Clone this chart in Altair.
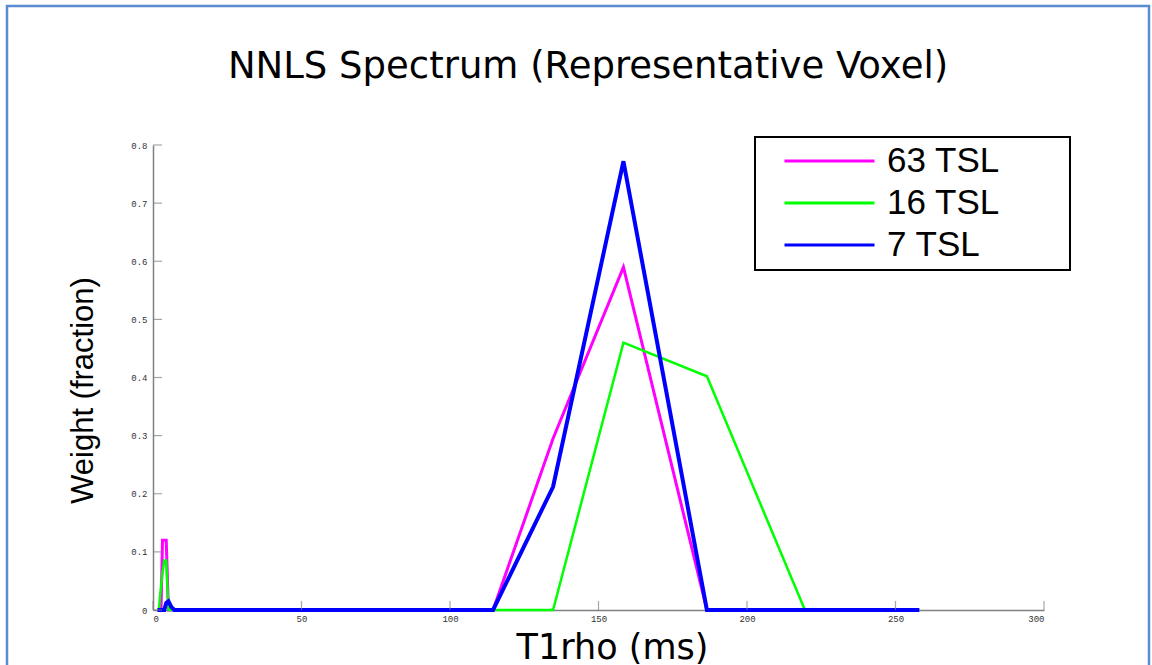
import altair as alt
import pandas as pd

# T1rho grid (ms) and NNLS weights for each acquisition
t1rho = [1.5, 2.0, 2.3, 2.7, 3.2, 3.8, 4.45, 5.2, 6.2, 7.2, 97.3,
         114.5, 134.7, 158.4, 186.5, 219.5, 258.0]
w_63 = [0, 0, 0, 0, 0.12, 0.12, 0.12, 0, 0, 0, 0,
        0, 0.295, 0.59, 0, 0, 0]
w_16 = [0, 0, 0.02, 0.04, 0.065, 0.085, 0.085, 0, 0, 0, 0,
        0, 0, 0.46, 0.402, 0, 0]
w_7 = [0, 0, 0, 0, 0, 0, 0.012, 0.015, 0.005, 0, 0,
       0, 0.212, 0.772, 0, 0, 0]

series_names = ["63 TSL", "16 TSL", "7 TSL"]
series_colors = ["#ff00ff", "#00ff00", "#0000ff"]
series_widths = [3, 2.5, 4]

x_ticks = [0, 50, 100, 150, 200, 250, 300]
y_ticks = [0, 0.1, 0.2, 0.3, 0.4, 0.5, 0.6, 0.7, 0.8]

W, H = 891, 465

rows = []
for name, ws in zip(series_names, [w_63, w_16, w_7]):
    for t, w in zip(t1rho, ws):
        rows.append({"t1rho": t, "weight": w, "series": name})
df = pd.DataFrame(rows)

x_scale = alt.Scale(domain=[0, 300], nice=False, zero=False)
y_scale = alt.Scale(domain=[0, 0.8], nice=False)
color_scale = alt.Scale(domain=series_names, range=series_colors)

axis_common = dict(
    grid=False, ticks=False, domainColor="#808080", domainWidth=1.5,
    labelFont="Liberation Mono", labelFontSize=9, labelColor="#333333",
    titleFontWeight="normal", titleColor="#000000",
)

x_axis = alt.Axis(values=x_ticks, format="d", labelPadding=4,
                  title="T1rho (ms)",
                  titleFont="DejaVu Sans", titleFontSize=35,
                  titleX=459, titleY=48,
                  titleBaseline="alphabetic", titleAlign="center",
                  **axis_common)
y_axis = alt.Axis(values=y_ticks, format="~r", labelPadding=6,
                  title="Weight (fraction)",
                  titleFont="Liberation Sans", titleFontSize=31,
                  titleX=-70, titleY=245,
                  titleAngle=270, titleAlign="center",
                  titleBaseline="middle", **axis_common)

legend = alt.Legend(
    orient="none", legendX=630, legendY=-1, title=None,
    symbolType="stroke", symbolSize=8100, symbolStrokeWidth=3,
    labelFont="Liberation Sans", labelFontSize=35, labelColor="#000000",
    labelOffset=11, rowPadding=7, padding=0, clipHeight=34,
    labelExpr="datum.label == '7 TSL' ? '\u00a0\u00a0\u00a07 TSL' : datum.label",
)

one_row = pd.DataFrame({"k": [0]})

# outer frame around the figure
frame = alt.Chart(one_row).mark_rect(
    fillOpacity=0, stroke="#5b8bd0", strokeWidth=2.5
).encode(
    x=alt.value(-146), x2=alt.value(996),
    y=alt.value(-139), y2=alt.value(560),
)

# legend box
legend_box = alt.Chart(one_row).mark_rect(
    fill="white", stroke="black", strokeWidth=2
).encode(
    x=alt.value(602), x2=alt.value(917),
    y=alt.value(-8), y2=alt.value(125),
)

def spectrum(name, width):
    return alt.Chart(df).transform_filter(
        alt.datum.series == name
    ).mark_line(strokeWidth=width, strokeJoin="miter").encode(
        x=alt.X("t1rho:Q", scale=x_scale, axis=x_axis),
        y=alt.Y("weight:Q", scale=y_scale, axis=y_axis),
        color=alt.Color("series:N", scale=color_scale, legend=legend),
    )

lines = [spectrum(n, w) for n, w in zip(series_names, series_widths)]

# inward tick marks
y_tick_marks = alt.Chart(pd.DataFrame({"weight": y_ticks})).mark_tick(
    color="#808080", size=9, thickness=1.2
).encode(
    y=alt.Y("weight:Q", scale=y_scale, axis=y_axis), x=alt.value(4.5)
)
x_tick_marks = alt.Chart(pd.DataFrame({"t1rho": x_ticks})).mark_tick(
    color="#808080", size=9, thickness=1.2
).encode(
    x=alt.X("t1rho:Q", scale=x_scale, axis=x_axis), y=alt.value(H - 4.5)
)

title = alt.Chart(one_row).mark_text(
    text="NNLS Spectrum (Representative Voxel)",
    font="DejaVu Sans", fontSize=37, color="#000000",
    align="center", baseline="alphabetic",
).encode(x=alt.value(435), y=alt.value(-67))

chart = alt.layer(
    frame, legend_box, *lines, y_tick_marks, x_tick_marks, title
).properties(
    width=W, height=H,
    autosize=alt.AutoSizeParams(type="none"),
    padding={"left": 153, "top": 145, "right": 108, "bottom": 55},
    background="white",
).configure_view(stroke=None)

chart.save("out.html", embed_options={"renderer": "svg", "actions": False})
